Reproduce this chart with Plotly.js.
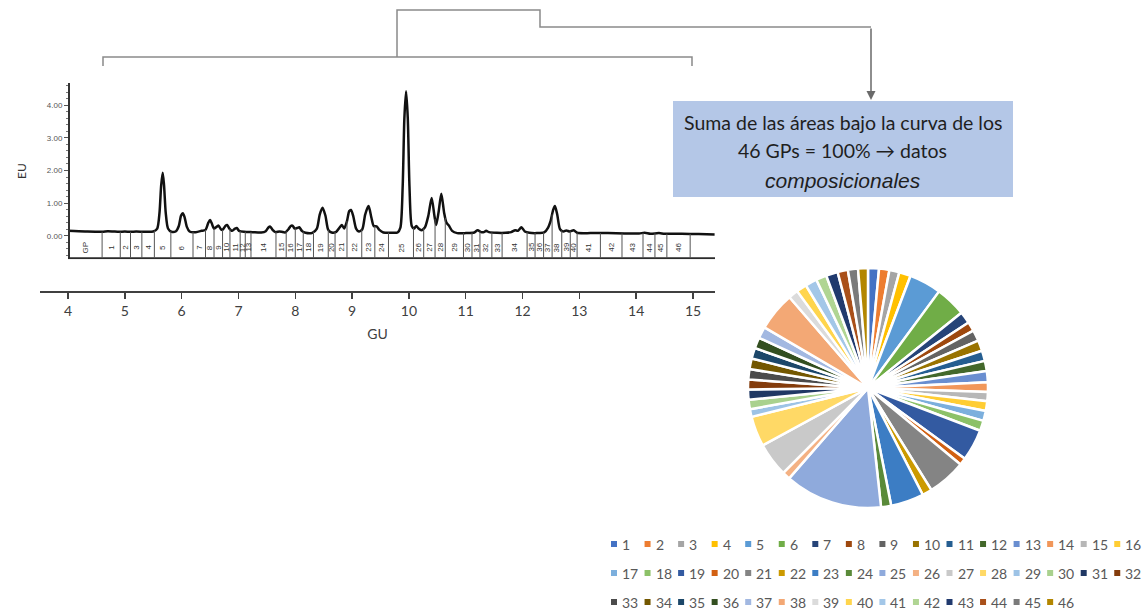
<!DOCTYPE html>
<html>
<head>
<meta charset="utf-8">
<script src="https://cdn.plot.ly/plotly-3.0.1.min.js"></script>
<style>html,body{margin:0;padding:0;background:#fff}#chart{width:1142px;height:611px}</style>
</head>
<body>
<div id="chart"></div>
<script>
// ---------- DATA ----------
// chromatogram trace (GU, EU)
const traceGU = [4.00,4.30,4.60,4.70,4.80,4.90,5.00,5.10,5.20,5.35,5.50,5.57,5.61,5.64,5.667,5.69,5.72,5.76,5.82,5.90,5.95,5.99,6.02,6.05,6.09,6.14,6.25,6.35,6.42,6.47,6.50,6.53,6.57,6.62,6.65,6.69,6.72,6.77,6.80,6.84,6.89,6.94,6.97,7.01,7.10,7.25,7.40,7.48,7.53,7.56,7.60,7.65,7.72,7.76,7.82,7.88,7.92,7.95,7.99,8.04,8.07,8.12,8.18,8.30,8.38,8.43,8.48,8.53,8.58,8.64,8.72,8.78,8.82,8.86,8.91,8.95,8.98,9.02,9.07,9.12,9.18,9.23,9.29,9.34,9.38,9.43,9.48,9.55,9.70,9.80,9.85,9.89,9.92,9.95,9.98,10.01,10.05,10.09,10.13,10.17,10.22,10.28,10.34,10.40,10.45,10.48,10.52,10.57,10.62,10.66,10.70,10.76,10.85,11.00,11.15,11.21,11.27,11.32,11.36,11.41,11.55,11.70,11.80,11.87,11.92,11.98,12.04,12.12,12.25,12.38,12.45,12.49,12.54,12.57,12.61,12.66,12.72,12.77,12.83,12.90,12.96,13.20,13.50,13.80,14.05,14.15,14.25,14.40,14.50,14.80,15.10,15.38];
const traceEU = [0.15,0.13,0.12,0.14,0.13,0.12,0.13,0.12,0.13,0.12,0.13,0.22,0.70,1.55,1.93,1.55,0.70,0.22,0.12,0.14,0.30,0.62,0.69,0.58,0.28,0.13,0.11,0.15,0.18,0.40,0.48,0.38,0.22,0.28,0.31,0.20,0.18,0.30,0.33,0.22,0.15,0.22,0.24,0.15,0.12,0.11,0.10,0.14,0.26,0.28,0.18,0.11,0.13,0.12,0.10,0.20,0.30,0.31,0.22,0.24,0.26,0.14,0.09,0.09,0.22,0.65,0.86,0.62,0.18,0.10,0.12,0.25,0.33,0.22,0.45,0.76,0.79,0.60,0.22,0.13,0.20,0.65,0.91,0.55,0.30,0.29,0.18,0.10,0.09,0.10,0.25,1.50,3.60,4.43,3.60,1.50,0.30,0.22,0.30,0.22,0.17,0.25,0.60,1.16,0.60,0.33,0.70,1.29,0.70,0.40,0.32,0.15,0.08,0.08,0.10,0.17,0.11,0.11,0.15,0.11,0.09,0.09,0.11,0.17,0.15,0.26,0.13,0.09,0.08,0.10,0.25,0.43,0.80,0.91,0.65,0.20,0.13,0.16,0.13,0.17,0.09,0.08,0.08,0.07,0.07,0.09,0.06,0.08,0.06,0.06,0.05,0.04];

// GP integration boundaries (GU) and labels
const gpBounds = [4.60,4.92,5.10,5.30,5.52,5.81,6.20,6.42,6.57,6.72,6.85,7.03,7.12,7.22,7.66,7.84,8.00,8.14,8.32,8.58,8.70,8.91,9.17,9.40,9.64,10.08,10.26,10.46,10.64,10.96,11.11,11.25,11.46,11.64,12.08,12.22,12.37,12.52,12.69,12.84,12.96,13.37,13.75,14.12,14.33,14.54,14.95];
const gpLabels = ["1","2","3","4","5","6","7","8","9","10","11","12","13","14","15","16","17","18","19","20","21","22","23","24","25","26","27","28","29","30","31","32","33","34","35","36","37","38","39","40","41","42","43","44","45","46"];

// GU axis ticks
const guTicks = [4,5,6,7,8,9,10,11,12,13,14,15];
const euTicks = [0,1,2,3,4];

// composition (% of total area) per GP
const pieValues = [1.47,1.39,1.36,1.56,4.33,4.11,1.61,1.25,1.47,1.44,1.39,1.36,1.50,1.31,1.22,1.33,1.33,1.39,4.25,0.94,5.17,1.31,4.44,1.36,13.17,1.06,4.58,4.08,1.03,1.28,1.36,1.33,1.39,1.44,1.44,1.47,1.56,5.22,1.31,1.39,1.58,1.42,1.58,1.39,1.36,1.33];
const pieColors = ["#4472C4","#ED7D31","#A5A5A5","#FFC000","#5B9BD5","#70AD47","#264478","#9E480E","#636363","#997300","#255E91","#43682B","#698ED0","#F1975A","#B7B7B7","#FFCD33","#7CAFDD","#8CC168","#335AA1","#D26012","#848484","#CC9A00","#3C7DC4","#5A8A39","#8FAADC","#F4B183","#C9C9C9","#FFD966","#9DC3E6","#A9D18E","#203864","#843C0C","#4B4B4B","#735700","#1C4769","#334F20","#A2B8E1","#F3A875","#DBDBDB","#FFD54D","#A3C7E8","#B0D593","#213A6E","#A9501A","#7A7A7A","#B38600"];

const boxLines = ["Suma de las áreas bajo la curva de los", "46 GPs = 100% → datos", "<i>composicionales</i>"];

// ---------- LAYOUT HELPERS ----------
const W = 1142, H = 611;
const px = x => x / W;
const py = y => 1 - y / H;
function interpTrace(g) {
  for (let i = 0; i < traceGU.length - 1; i++) {
    if (g >= traceGU[i] && g <= traceGU[i + 1]) {
      const t = (g - traceGU[i]) / (traceGU[i + 1] - traceGU[i]);
      return traceEU[i] + t * (traceEU[i + 1] - traceEU[i]);
    }
  }
  return traceEU[traceEU.length - 1];
}

const FONT = "Lato, 'Open Sans', sans-serif";
const shapes = [];
const annotations = [];

// band bottom line
shapes.push({type: 'line', xref: 'x', yref: 'y', x0: 4.0, x1: 15.387, y0: -0.69, y1: -0.69,
  line: {color: '#2b2b2b', width: 2}});
// GP separators
gpBounds.forEach(b => {
  shapes.push({type: 'line', xref: 'x', yref: 'y', x0: b, x1: b, y0: -0.69, y1: interpTrace(b),
    line: {color: '#555', width: 1}});
});
// GP labels
const allB = [4.0].concat(gpBounds);
const allL = ["GP"].concat(gpLabels);
allL.forEach((lab, i) => {
  annotations.push({xref: 'x', yref: 'y', x: (allB[i] + allB[i + 1]) / 2, y: -0.36,
    text: lab, showarrow: false, textangle: -90,
    font: {family: 'Liberation Sans, Arial, sans-serif', size: 8, color: '#333'}});
});

// brackets / connector
function path(pts) { return pts.map((p, i) => (i ? 'L' : 'M') + px(p[0]).toFixed(5) + ',' + py(p[1]).toFixed(5)).join(' '); }
shapes.push({type: 'path', xref: 'paper', yref: 'paper', path: path([[103, 66], [103, 57], [692, 57], [692, 66]]),
  line: {color: '#8a8a8a', width: 1.5}});
shapes.push({type: 'path', xref: 'paper', yref: 'paper', path: path([[397, 57], [397, 10], [540, 10], [540, 27], [871, 27]]),
  line: {color: '#8a8a8a', width: 1.5}});
annotations.push({xref: 'paper', yref: 'paper', x: px(871), y: py(100), ax: 0, ay: -73, text: '',
  showarrow: true, arrowhead: 2, arrowsize: 1.2, arrowwidth: 1.5, arrowcolor: '#6a6a6a', standoff: 0});

// text box
shapes.push({type: 'rect', xref: 'paper', yref: 'paper', x0: px(673), x1: px(1013), y0: py(197), y1: py(101),
  fillcolor: '#B4C7E7', line: {width: 0}, layer: 'below'});
const boxY = [122, 151, 180];
boxLines.forEach((t, i) => {
  annotations.push({xref: 'paper', yref: 'paper', x: px(843), y: py(boxY[i]), text: t, showarrow: false,
    xanchor: 'center', yanchor: 'middle',
    font: i === 2 ? {family: 'Liberation Sans, Arial, sans-serif', size: 21, color: '#1f1f1f'}
                  : {family: FONT, size: 19.5, color: '#1f1f1f'}});
});

// legend (manual, 16 per row)
const legX0 = 614, legDX = 33.55, legY = [544, 573, 602];
gpLabels.forEach((lab, i) => {
  const r = Math.floor(i / 16), c = i % 16;
  const cx = legX0 + c * legDX, cy = legY[r];
  shapes.push({type: 'rect', xref: 'paper', yref: 'paper', x0: px(cx - 3), x1: px(cx + 3), y0: py(cy + 3), y1: py(cy - 3),
    fillcolor: pieColors[i], line: {width: 0}});
  annotations.push({xref: 'paper', yref: 'paper', x: px(cx + 6), y: py(cy), xanchor: 'left', yanchor: 'middle',
    text: lab, showarrow: false, font: {family: FONT, size: 14, color: '#595959'}});
});

// ---------- TRACES ----------
const chrom = {
  type: 'scatter', mode: 'lines', x: traceGU, y: traceEU, xaxis: 'x', yaxis: 'y',
  line: {color: '#111', width: 2.5, shape: 'spline', smoothing: 0.7}, hoverinfo: 'x+y', showlegend: false
};
const pie = {
  type: 'pie', labels: gpLabels, values: pieValues, sort: false, direction: 'clockwise', rotation: 0,
  marker: {colors: pieColors, line: {color: '#ffffff', width: 2.5}},
  textinfo: 'none', showlegend: false,
  domain: {x: [px(748), px(988)], y: [py(508), py(268)]}
};

const layout = {
  width: W, height: H, margin: {l: 0, r: 0, t: 0, b: 0},
  paper_bgcolor: '#fff', plot_bgcolor: 'rgba(0,0,0,0)', showlegend: false,
  font: {family: FONT},
  xaxis: {
    domain: [px(40), px(715)], range: [3.507, 15.387], anchor: 'free', position: py(292),
    showline: true, linecolor: '#404040', linewidth: 2, showgrid: false, zeroline: false,
    ticks: 'outside', ticklen: 6, tickwidth: 1.5, tickcolor: '#404040',
    tickvals: guTicks, ticktext: guTicks.map(String),
    tickfont: {family: FONT, size: 14, color: '#404040'},
    title: {text: 'GU', font: {family: FONT, size: 14, color: '#404040'}, standoff: 10}
  },
  yaxis: {
    domain: [py(259.2), py(83)], range: [-0.72, 4.684], anchor: 'free', position: px(68),
    showline: true, linecolor: '#333', linewidth: 1.5, showgrid: false, zeroline: false,
    ticks: 'outside', ticklen: 4, tickcolor: '#555', tickvals: euTicks, tickformat: '.2f',
    minor: {ticks: 'outside', ticklen: 2, dtick: 0.2, tickcolor: '#777', showgrid: false},
    tickfont: {family: 'Liberation Sans, Arial, sans-serif', size: 8, color: '#555'},
    title: {text: 'EU', font: {family: FONT, size: 12, color: '#333'}, standoff: 16}
  },
  shapes: shapes,
  annotations: annotations
};

Plotly.newPlot('chart', [chrom, pie], layout, {displayModeBar: false, staticPlot: true});
</script>
</body>
</html>
